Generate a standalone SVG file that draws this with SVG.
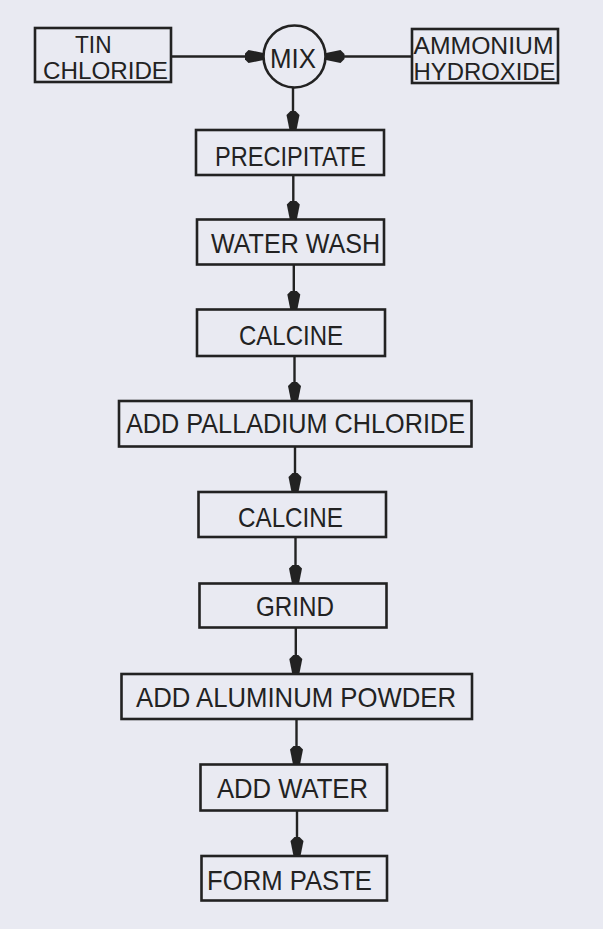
<svg xmlns="http://www.w3.org/2000/svg" width="603" height="929" viewBox="0 0 603 929">
<style>
.bg{fill:#e9eaf2}
.box{fill:none;stroke:#222;stroke-width:2.6}
.lbl{font-family:"Liberation Sans","DejaVu Sans",sans-serif;font-size:28px;fill:#222}
.lbl2{font-family:"Liberation Sans","DejaVu Sans",sans-serif;font-size:24px;fill:#222}
.con{fill:none;stroke:#222;stroke-width:2.4}
</style>
<defs>
<marker id="ah" markerUnits="userSpaceOnUse" viewBox="-19 -7 19 14" refX="0" refY="0" markerWidth="19" markerHeight="14" orient="auto">
<path d="M-19,-2.5 L-15,-6.5 L0,-3.5 L0,3.5 L-15,6.5 L-19,2.5 Z" fill="#222"/>
</marker>
</defs>
<rect class="bg" x="0" y="0" width="603" height="929"/>
<g id="connectors">
<line class="con" x1="171" y1="56.5" x2="263.5" y2="56.5" marker-end="url(#ah)"/>
<line class="con" x1="412" y1="56.5" x2="325.5" y2="56.5" marker-end="url(#ah)"/>
<line class="con" x1="293" y1="87.5" x2="293" y2="130" marker-end="url(#ah)"/>
<line class="con" x1="293.3" y1="175" x2="293.3" y2="219.5" marker-end="url(#ah)"/>
<line class="con" x1="293.8" y1="264.5" x2="293.8" y2="309.5" marker-end="url(#ah)"/>
<line class="con" x1="294.5" y1="356" x2="294.5" y2="401" marker-end="url(#ah)"/>
<line class="con" x1="295" y1="446.5" x2="295" y2="492" marker-end="url(#ah)"/>
<line class="con" x1="295.5" y1="537" x2="295.5" y2="583.5" marker-end="url(#ah)"/>
<line class="con" x1="295.8" y1="627.5" x2="295.8" y2="674" marker-end="url(#ah)"/>
<line class="con" x1="296.5" y1="719" x2="296.5" y2="764.5" marker-end="url(#ah)"/>
<line class="con" x1="297" y1="810.5" x2="297" y2="856" marker-end="url(#ah)"/>
</g>
<g id="tin-chloride">
<rect class="box" x="35" y="28" width="136" height="54"/>
<text class="lbl2" x="75" y="52.5" textLength="36.5" lengthAdjust="spacingAndGlyphs">TIN</text>
<text class="lbl2" x="43" y="79" textLength="125" lengthAdjust="spacingAndGlyphs">CHLORIDE</text>
</g>
<g id="mix">
<circle class="box" cx="294.5" cy="56.5" r="31"/>
<text class="lbl" x="270" y="67.5" textLength="46" lengthAdjust="spacingAndGlyphs">MIX</text>
</g>
<g id="ammonium-hydroxide">
<rect class="box" x="412" y="29" width="146" height="54"/>
<text class="lbl2" x="413.5" y="53.5" textLength="140" lengthAdjust="spacingAndGlyphs">AMMONIUM</text>
<text class="lbl2" x="413.5" y="79.5" textLength="142" lengthAdjust="spacingAndGlyphs">HYDROXIDE</text>
</g>
<g id="precipitate">
<rect class="box" x="196" y="130" width="188" height="45"/>
<text class="lbl" x="215" y="166" textLength="151" lengthAdjust="spacingAndGlyphs">PRECIPITATE</text>
</g>
<g id="water-wash">
<rect class="box" x="197" y="219.5" width="187" height="45"/>
<text class="lbl" x="211" y="252.5" textLength="169" lengthAdjust="spacingAndGlyphs">WATER WASH</text>
</g>
<g id="calcine-1">
<rect class="box" x="197" y="309.5" width="188" height="46.5"/>
<text class="lbl" x="239" y="345" textLength="104" lengthAdjust="spacingAndGlyphs">CALCINE</text>
</g>
<g id="add-palladium-chloride">
<rect class="box" x="119" y="401" width="352.5" height="45.5"/>
<text class="lbl" x="126" y="433" textLength="339" lengthAdjust="spacingAndGlyphs">ADD PALLADIUM CHLORIDE</text>
</g>
<g id="calcine-2">
<rect class="box" x="198.5" y="492" width="187.5" height="45"/>
<text class="lbl" x="238" y="527" textLength="105" lengthAdjust="spacingAndGlyphs">CALCINE</text>
</g>
<g id="grind">
<rect class="box" x="199.5" y="583.5" width="187" height="44"/>
<text class="lbl" x="256" y="616" textLength="78" lengthAdjust="spacingAndGlyphs">GRIND</text>
</g>
<g id="add-aluminum-powder">
<rect class="box" x="121.5" y="674" width="350.5" height="45"/>
<text class="lbl" x="136" y="707" textLength="320" lengthAdjust="spacingAndGlyphs">ADD ALUMINUM POWDER</text>
</g>
<g id="add-water">
<rect class="box" x="200.5" y="764.5" width="186.5" height="46"/>
<text class="lbl" x="217" y="798" textLength="151" lengthAdjust="spacingAndGlyphs">ADD WATER</text>
</g>
<g id="form-paste">
<rect class="box" x="201.5" y="856" width="185.5" height="44.5"/>
<text class="lbl" x="207" y="890" textLength="165" lengthAdjust="spacingAndGlyphs">FORM PASTE</text>
</g>
</svg>
